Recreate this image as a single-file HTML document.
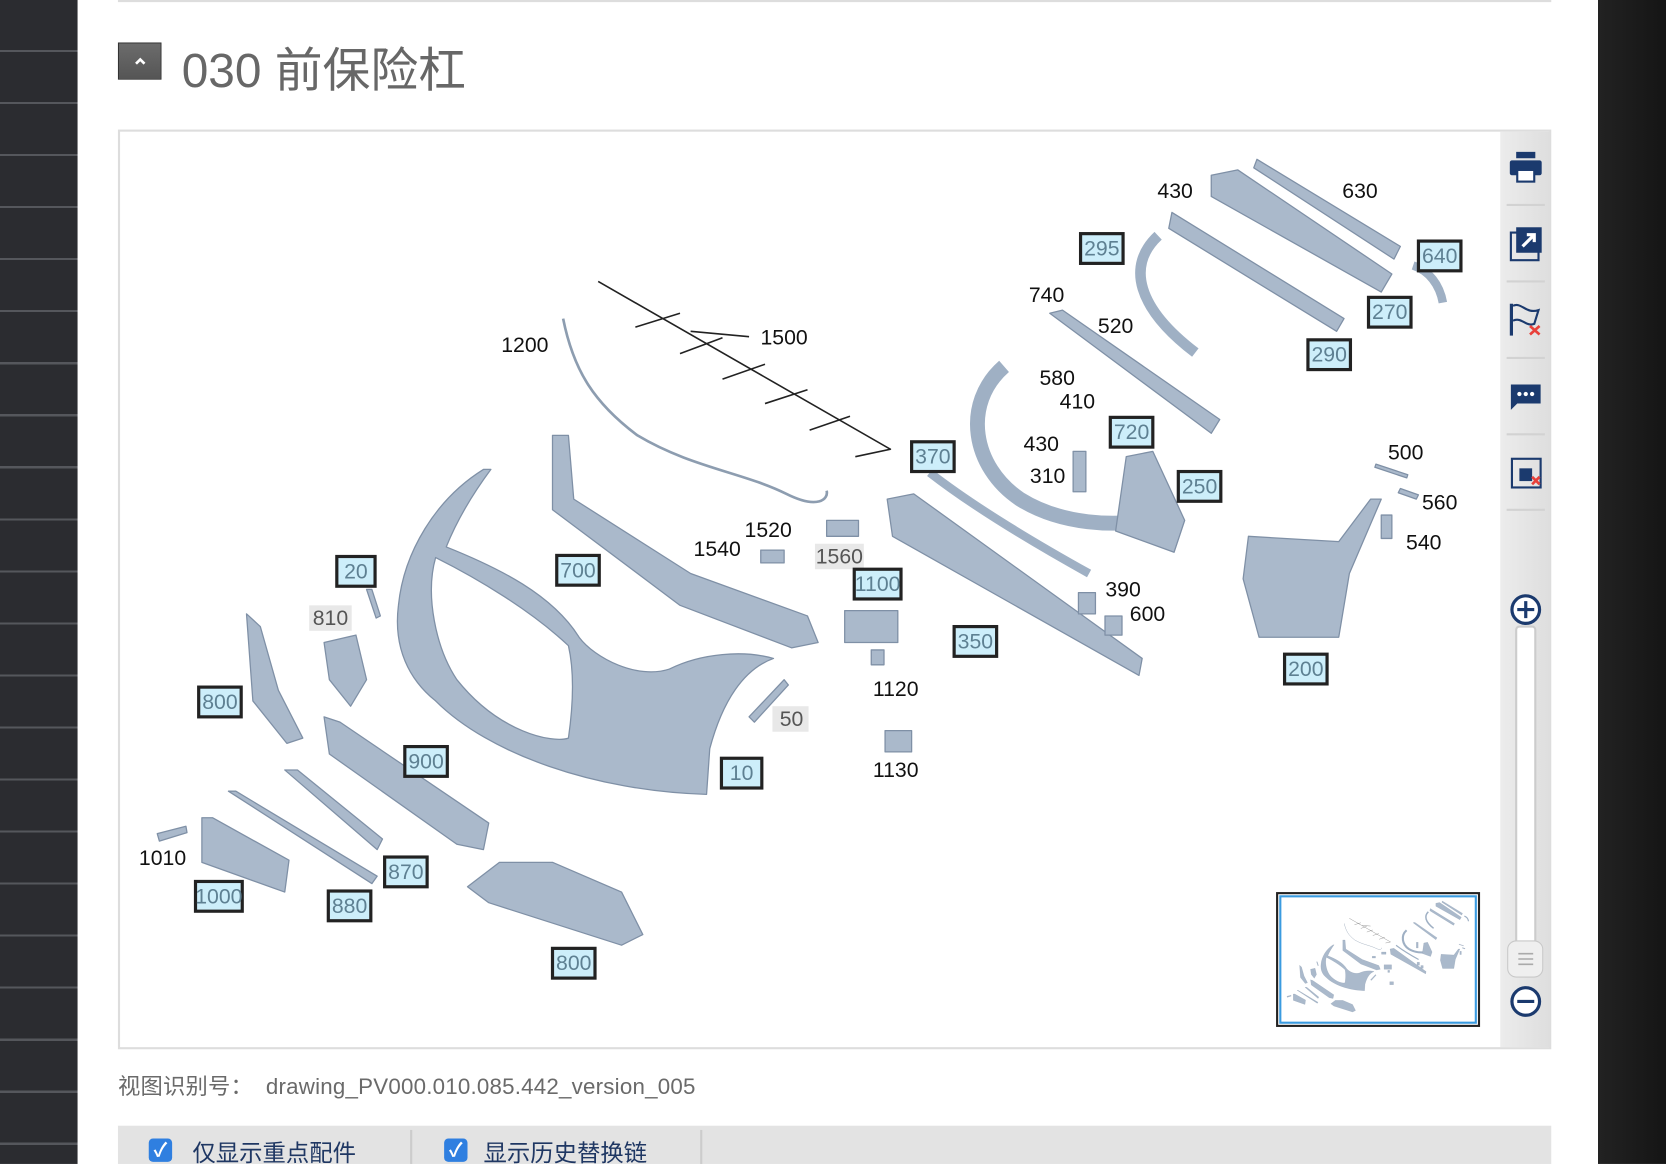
<!DOCTYPE html>
<html><head><meta charset="utf-8">
<style>
html,body{margin:0;padding:0;width:1666px;height:1164px;overflow:hidden;background:#fff;}
#root{position:absolute;left:0;top:0;width:1568px;height:1096px;transform:scale(1.0625,1.062);transform-origin:0 0;font-family:"Liberation Sans","Noto Sans CJK SC",sans-serif;}
.abs{position:absolute;}
#lside{left:0;top:0;width:73px;height:1096px;background:repeating-linear-gradient(#2b2c30 0px,#2b2c30 47px,#55575c 47px,#55575c 49px);}
#rside{left:1504px;top:0;width:64px;height:1096px;background:linear-gradient(90deg,#222 0,#151515 100%);}
#topline{left:111px;top:0;width:1349px;height:2px;background:#ddd;}
#btn{left:111px;top:40px;width:41px;height:35px;background:linear-gradient(#6c6c6c,#555);border:1px solid #333;box-sizing:border-box;}
#title{left:171px;top:30px;font-size:45px;color:#676767;white-space:nowrap;}
#box{left:111px;top:122px;width:1349px;height:866px;border:2px solid #ddd;box-sizing:border-box;}
#tool{left:1412px;top:124px;width:47px;height:862px;background:linear-gradient(90deg,#ececec,#dedede);}
#foot{left:111px;top:1007px;font-size:21px;color:#6a6a6a;white-space:nowrap;letter-spacing:0.2px;}
#bar{left:111px;top:1060px;width:1349px;height:36px;background:#e3e3e3;}
.cb{position:absolute;top:12px;width:22px;height:22px;border-radius:4px;background:#2f7fe0;color:#fff;font-size:18px;line-height:22px;text-align:center;font-weight:bold;}
.cbt{position:absolute;top:8px;font-size:22px;color:#1f3763;white-space:nowrap;}
.sep{position:absolute;top:4px;width:2px;height:32px;background:#ccc;}
</style></head><body>
<div id="root">
<div id="lside" class="abs"></div>
<div id="rside" class="abs"></div>
<div id="topline" class="abs"></div>
<div id="btn" class="abs"><svg width="39" height="33"><path d="M16,19 L20,15 L24,19" stroke="#fff" stroke-width="2.5" fill="none"/></svg></div>
<div id="title" class="abs">030 前保险杠</div>
<div id="box" class="abs"></div>
<div id="tool" class="abs"></div>
<svg class="abs" style="left:0;top:0" width="1568" height="1096" viewBox="0 0 1568 1096">
<defs>
<g id="parts" fill="#aab9cb" stroke="#7f90a6" stroke-width="1.2" stroke-linejoin="round">
 <polygon points="1183,150 1318,232 1312,244 1180,158"/>
 <polygon points="1140,165 1165,160 1310,258 1300,275 1140,185"/>
 <polygon points="1103,200 1265,300 1258,312 1100,215"/>
 <path d="M1090,222 C1060,250 1070,290 1125,332" fill="none" stroke="#9fb0c4" stroke-width="10"/>
 <path d="M1330,250 C1345,255 1355,268 1358,285" fill="none" stroke="#9fb0c4" stroke-width="8"/>
 <polygon points="988,295 1000,292 1148,395 1140,408"/>
 <path d="M945,345 C905,380 915,440 960,470 C1000,495 1050,495 1080,490" fill="none" stroke="#9fb0c4" stroke-width="14"/>
 <polygon points="1060,430 1085,425 1115,490 1105,520 1050,500"/>
 <path d="M875,445 C920,480 980,515 1025,540" fill="none" stroke="#9fb0c4" stroke-width="8"/>
 <polygon points="835,470 860,465 1075,620 1072,636 840,505"/>
 <polygon points="1175,505 1260,510 1290,470 1300,470 1270,540 1260,600 1185,600 1170,545"/>
 <polygon points="520,410 535,410 540,470 650,540 760,580 770,605 745,610 640,570 520,480"/>
 <path d="M455,442 C410,470 380,520 375,570 C370,610 385,640 410,660 C460,710 560,745 665,748 L668,705 C680,660 700,630 728,620 C700,612 660,615 630,630 C600,640 560,620 545,600 C520,560 470,535 420,515 C430,490 445,465 462,442 Z"/>
 <path d="M410,525 C400,560 410,610 430,640 C470,690 520,700 535,695 C540,660 540,630 535,608 C500,575 450,545 410,525 Z" fill="#fff"/>
 <polygon points="232,578 245,590 262,650 285,695 270,700 238,660"/>
 <polygon points="305,605 335,598 345,640 330,665 310,640"/>
 <polygon points="305,675 320,680 460,775 455,800 430,795 310,710"/>
 <polygon points="215,745 222,745 355,825 350,832"/>
 <polygon points="268,725 280,725 360,790 355,800"/>
 <polygon points="190,770 200,770 272,810 268,840 190,812"/>
 <polygon points="148,785 175,778 176,784 150,792"/>
 <polygon points="440,835 470,812 520,812 585,840 605,880 585,890 460,850"/>
 <rect x="795" y="575" width="50" height="30"/>
 <rect x="833" y="688" width="25" height="20"/>
 <rect x="820" y="612" width="12" height="14"/>
 <rect x="778" y="490" width="30" height="15"/>
 <rect x="716" y="518" width="22" height="12"/>
 <polygon points="705,675 738,640 742,645 710,680"/>
 <polygon points="345,555 350,555 358,580 354,582"/>
 <rect x="1015" y="558" width="16" height="20"/>
 <rect x="1040" y="580" width="16" height="18"/>
 <rect x="1010" y="425" width="12" height="38"/>
 <rect x="1300" y="485" width="10" height="22"/>
 <polygon points="1318,460 1335,466 1333,470 1316,464"/>
 <polygon points="1295,437 1325,447 1324,450 1294,440"/>
 <path d="M563,265 L838,423 L805,430 M598,308 L640,295 M640,333 L680,318 M680,357 L720,343 M720,380 L760,367 M762,405 L800,392 M650,312 L705,317" fill="none" stroke="#222" stroke-width="1.5"/>
 <path d="M530,300 C540,350 560,380 600,410 C650,440 700,445 740,465 C770,480 780,470 778,462" fill="none" stroke="#8d9db0" stroke-width="2.5"/>
</g>
</defs>
<use href="#parts"/>
<g font-size="20" fill="#111" text-anchor="middle" dominant-baseline="central">
<text x="1106" y="180">430</text><text x="1280" y="180">630</text><text x="985" y="278">740</text><text x="1050" y="307">520</text>
<text x="494" y="325">1200</text><text x="738" y="318">1500</text><text x="995" y="356">580</text><text x="1014" y="378">410</text>
<text x="980" y="418">430</text><text x="986" y="448">310</text><text x="1323" y="426">500</text><text x="1355" y="473">560</text>
<text x="1340" y="511">540</text><text x="723" y="499">1520</text><text x="675" y="517">1540</text><text x="1057" y="555">390</text>
<text x="1080" y="578">600</text><text x="843" y="649">1120</text><text x="843" y="725">1130</text><text x="153" y="808">1010</text>
<rect x="767" y="512" width="46" height="24" fill="#e8e8e8"/><text x="790" y="524" fill="#555">1560</text>
<rect x="291" y="570" width="40" height="24" fill="#e8e8e8"/><text x="311" y="582" fill="#555">810</text>
<rect x="727" y="665" width="34" height="24" fill="#e8e8e8"/><text x="745" y="677" fill="#555">50</text>
</g>
<g font-size="20" text-anchor="middle" dominant-baseline="central">
<g fill="#cdeefa" stroke="#222" stroke-width="3">
<rect x="1017" y="220" width="40" height="28"/><rect x="1335" y="227" width="40" height="28"/><rect x="1288" y="280" width="40" height="28"/>
<rect x="1231" y="320" width="40" height="28"/><rect x="1045" y="393" width="40" height="28"/><rect x="858" y="416" width="40" height="28"/>
<rect x="1109" y="444" width="40" height="28"/><rect x="317" y="524" width="36" height="28"/><rect x="524" y="523" width="40" height="28"/>
<rect x="804" y="536" width="44" height="28"/><rect x="898" y="590" width="40" height="28"/><rect x="1209" y="616" width="40" height="28"/>
<rect x="187" y="647" width="40" height="28"/><rect x="381" y="703" width="40" height="28"/><rect x="679" y="714" width="38" height="28"/>
<rect x="362" y="807" width="40" height="28"/><rect x="184" y="830" width="44" height="28"/><rect x="309" y="839" width="40" height="28"/>
<rect x="520" y="893" width="40" height="28"/>
</g>
<g fill="#5e8092">
<text x="1037" y="234">295</text><text x="1355" y="241">640</text><text x="1308" y="294">270</text><text x="1251" y="334">290</text>
<text x="1065" y="407">720</text><text x="878" y="430">370</text><text x="1129" y="458">250</text><text x="335" y="538">20</text>
<text x="544" y="537">700</text><text x="826" y="550">1100</text><text x="918" y="604">350</text><text x="1229" y="630">200</text>
<text x="207" y="661">800</text><text x="401" y="717">900</text><text x="698" y="728">10</text><text x="382" y="821">870</text>
<text x="206" y="844">1000</text><text x="329" y="853">880</text><text x="540" y="907">800</text>
</g></g>
<g fill="#1b3a6e">
<rect x="1421" y="151" width="30" height="14" rx="2"/><rect x="1427" y="143" width="18" height="6"/><rect x="1428" y="160" width="16" height="11" fill="#fff" stroke="#1b3a6e" stroke-width="2"/>
<rect x="1422" y="219" width="26" height="26" fill="none" stroke="#1b3a6e" stroke-width="2"/><rect x="1427" y="214" width="24" height="24"/><path d="M1433,232 L1444,221 M1437,221 L1444,221 L1444,228" stroke="#fff" stroke-width="3" fill="none"/>
<rect x="1421" y="286" width="3" height="30"/><path d="M1424,288 C1432,284 1436,296 1448,292 L1444,305 C1436,308 1432,298 1424,302" fill="none" stroke="#1b3a6e" stroke-width="2"/><path d="M1440,307 L1449,315 M1449,307 L1440,315" stroke="#e8403a" stroke-width="2.5"/>
<path d="M1422,362 h28 v18 h-22 l-6,6 Z"/><circle cx="1430" cy="371" r="2" fill="#fff"/><circle cx="1436" cy="371" r="2" fill="#fff"/><circle cx="1442" cy="371" r="2" fill="#fff"/>
<rect x="1423" y="432" width="27" height="27" fill="none" stroke="#1b3a6e" stroke-width="2"/><rect x="1430" y="441" width="12" height="12"/><path d="M1442,449 l7,7 M1449,449 l-7,7" stroke="#e8403a" stroke-width="2.5"/>
</g>
<g stroke="#d2d2d2" stroke-width="2"><line x1="1418" y1="193" x2="1454" y2="193"/><line x1="1418" y1="265" x2="1454" y2="265"/><line x1="1418" y1="337" x2="1454" y2="337"/><line x1="1418" y1="409" x2="1454" y2="409"/><line x1="1418" y1="480" x2="1454" y2="480"/></g>
<rect x="1427" y="590" width="18" height="300" fill="#fff" stroke="#ccc" stroke-width="2" rx="3"/>
<circle cx="1436" cy="574" r="13" fill="#fff" stroke="#1b3a6e" stroke-width="3"/><path d="M1436,566 v16 M1428,574 h16" stroke="#1b3a6e" stroke-width="3"/>
<rect x="1419" y="886" width="33" height="34" rx="8" fill="#efefef" stroke="#c8c8c8"/><path d="M1429,898 h14 M1429,903 h14 M1429,908 h14" stroke="#aaa" stroke-width="1.5"/>
<circle cx="1436" cy="943" r="13" fill="#fff" stroke="#1b3a6e" stroke-width="3"/><path d="M1428,943 h16" stroke="#1b3a6e" stroke-width="3"/>
<rect x="1202" y="841" width="190" height="125" fill="#fff" stroke="#222" stroke-width="2"/>
<rect x="1205" y="844" width="184" height="119" fill="#fff" stroke="#3a9be0" stroke-width="2"/>
<svg x="1208" y="847" width="178" height="113" viewBox="130 140 1250 800" preserveAspectRatio="xMidYMid meet"><use href="#parts"/></svg>
</svg>
<div id="foot" class="abs">视图识别号：&nbsp; drawing_PV000.010.085.442_version_005</div>
<div id="bar" class="abs">
<div class="cb" style="left:29px">✓</div><div class="cbt" style="left:70px">仅显示重点配件</div>
<div class="sep" style="left:275px"></div>
<div class="cb" style="left:307px">✓</div><div class="cbt" style="left:344px">显示历史替换链</div>
<div class="sep" style="left:548px"></div>
</div>
</div>
</body></html>
